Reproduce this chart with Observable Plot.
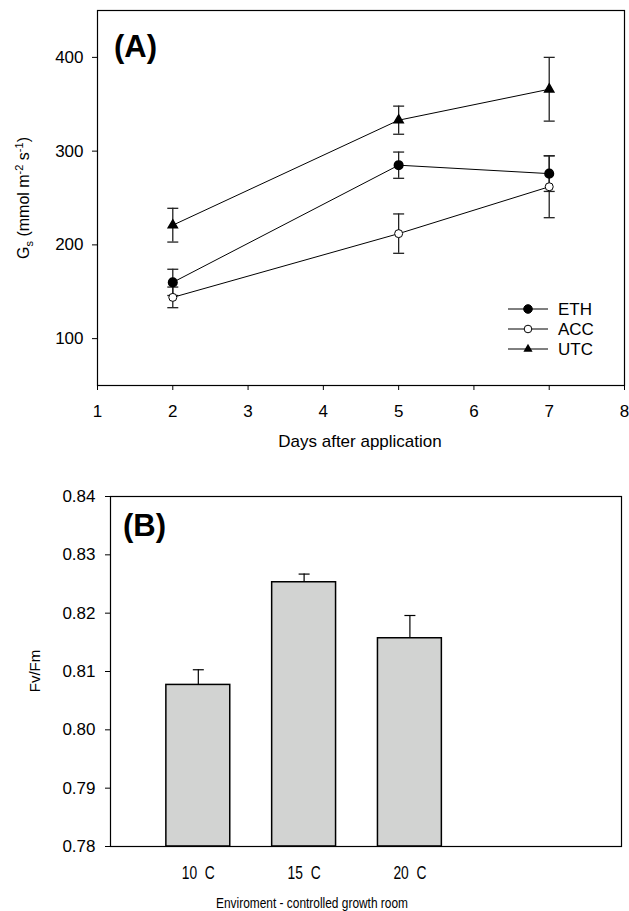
<!DOCTYPE html>
<html><head><meta charset="utf-8">
<script src="https://cdn.jsdelivr.net/npm/d3@7"></script>
<script src="https://cdn.jsdelivr.net/npm/@observablehq/plot@0.6"></script>
<style>
body{margin:0;background:#fff;}
#chart{width:629px;height:911px;}
#chart svg{display:block;}
</style></head><body><div id="chart"></div>
<script>
// ---- Panel A data ----
const days = [2, 5, 7];
const dayTicks = [1, 2, 3, 4, 5, 6, 7, 8];
const gsTicks = [100, 200, 300, 400];
const seriesNames = ["ETH", "ACC", "UTC"];
const ethMean = [160, 285, 276];
const ethErr = [14, 14, 19];
const accMean = [144, 212, 262];
const accErr = [11, 21, 33];
const utcMean = [221, 333, 366];
const utcErr = [18, 15, 34];

// ---- Panel B data ----
const envCategories = ["10\u00a0\u00a0C", "15\u00a0\u00a0C", "20\u00a0\u00a0C"];
const fvfmMean = [0.8077, 0.8253, 0.8157];
const fvfmErr = [0.0026, 0.0014, 0.0039];
const fvfmTicks = [0.78, 0.79, 0.80, 0.81, 0.82, 0.83, 0.84];

const FONT = "'Liberation Sans', Arial, Helvetica, sans-serif";

const capSymbol = {draw(ctx, size) { const w = Math.sqrt(size / Math.PI); ctx.moveTo(-w, 0); ctx.lineTo(w, 0); }};

function rows(name, means, errs) {
  return days.map((d, i) => ({series: name, day: d, value: means[i], err: errs[i]}));
}
const eth = rows("ETH", ethMean, ethErr);
const acc = rows("ACC", accMean, accErr);
const utc = rows("UTC", utcMean, utcErr);
const allA = [...eth, ...acc, ...utc];

const plotA = Plot.plot({
  width: 629, height: 470,
  marginTop: 10, marginLeft: 97, marginRight: 5, marginBottom: 85,
  style: {fontFamily: FONT, fontSize: "17px", color: "#000", background: "#fff", overflow: "visible"},
  x: {domain: [1, 8]},
  y: {domain: [50, 450]},
  marks: [
    Plot.axisX({ticks: dayTicks, tickFormat: d3.format("d"), tickSize: 5, tickPadding: 14, label: null, fontSize: 17}),
    Plot.axisY({ticks: gsTicks, tickFormat: d3.format("d"), tickSize: 5, tickPadding: 9, label: null, fontSize: 17}),
    Plot.ruleX(allA, {x: "day", y1: d => d.value - d.err, y2: d => d.value + d.err, stroke: "#222", strokeWidth: 1.3}),
    Plot.dot(allA, {x: "day", y: d => d.value - d.err, symbol: capSymbol, r: 5.5, stroke: "#222", strokeWidth: 1.3, fill: "none"}),
    Plot.dot(allA, {x: "day", y: d => d.value + d.err, symbol: capSymbol, r: 5.5, stroke: "#222", strokeWidth: 1.3, fill: "none"}),
    Plot.line(allA, {x: "day", y: "value", z: "series", stroke: "#000", strokeWidth: 1}),
    Plot.dot(eth, {x: "day", y: "value", r: 4.3, fill: "#000", stroke: "#000"}),
    Plot.dot(acc, {x: "day", y: "value", r: 4, fill: "#fff", stroke: "#000", strokeWidth: 1}),
    Plot.dot(utc, {x: "day", y: "value", symbol: "triangle", r: 3.4, fill: "#000", stroke: "#000"}),
    Plot.frame({stroke: "#000", strokeWidth: 1.2})
  ]
});

const rowsB = envCategories.map((c, i) => ({cat: c, pos: i + 1, value: fvfmMean[i], err: fvfmErr[i]}));
const barHalf = 0.302;
const plotB = Plot.plot({
  width: 629, height: 441,
  marginTop: 26, marginLeft: 110, marginRight: 8, marginBottom: 65,
  style: {fontFamily: FONT, fontSize: "17px", color: "#000", background: "#fff", overflow: "visible"},
  x: {domain: [0.17, 5.0]},
  y: {domain: [0.78, 0.84]},
  marks: [
    Plot.axisX({ticks: [1, 2, 3], tickFormat: d => envCategories[Math.round(d) - 1], tickSize: 0, tickPadding: 20, label: null, fontSize: 18}),
    Plot.axisY({ticks: fvfmTicks, tickFormat: d3.format(".2f"), tickSize: 5, tickPadding: 10, label: null, fontSize: 17}),
    Plot.ruleX(rowsB, {x: "pos", y1: "value", y2: d => d.value + d.err, stroke: "#000", strokeWidth: 1.2}),
    Plot.dot(rowsB, {x: "pos", y: d => d.value + d.err, symbol: capSymbol, r: 5.5, stroke: "#000", strokeWidth: 1.2, fill: "none"}),
    Plot.rect(rowsB, {x1: d => d.pos - barHalf, x2: d => d.pos + barHalf, y1: 0.78, y2: "value", fill: "#d2d3d2", stroke: "#000", strokeWidth: 1.5}),
    Plot.frame({stroke: "#000", strokeWidth: 1.2})
  ]
});

const chart = document.getElementById("chart");
chart.appendChild(plotA);
chart.appendChild(plotB);

// narrow the category labels of panel B like the reference
d3.select(plotB).selectAll('g[aria-label="x-axis tick label"] text')
  .attr("textLength", 33).attr("lengthAdjust", "spacingAndGlyphs");

// ---- annotations panel A ----
const sA = d3.select(plotA);
sA.append("text").attr("x", 114).attr("y", 57).attr("text-anchor", "start").attr("font-family", FONT).attr("font-weight", "bold")
  .attr("font-size", 31).attr("fill", "#000").text("(A)");
sA.append("text").attr("x", 360).attr("y", 447).attr("text-anchor", "middle").attr("font-family", FONT)
  .attr("font-size", 17).attr("fill", "#000").text("Days after application");
const gl = sA.append("text").attr("transform", "translate(29,198) rotate(-90)").attr("text-anchor", "middle")
  .attr("font-family", FONT).attr("font-size", 16).attr("fill", "#000").style("white-space", "pre");
gl.append("tspan").text("G");
gl.append("tspan").attr("dy", 4).attr("font-size", 11).text("s");
gl.append("tspan").attr("dy", -4).text(" (mmol m");
gl.append("tspan").attr("dy", -6).attr("font-size", 11).text("-2");
gl.append("tspan").attr("dy", 6).text(" s");
gl.append("tspan").attr("dy", -6).attr("font-size", 11).text("-1");
gl.append("tspan").attr("dy", 6).text(")");

// legend
const legY = [309, 329, 349];
seriesNames.forEach((name, i) => {
  const y = legY[i];
  const g = sA.append("g");
  g.append("line").attr("x1", 508).attr("x2", 548).attr("y1", y).attr("y2", y).attr("stroke", "#000").attr("stroke-width", 1);
  if (name === "UTC") {
    g.append("path").attr("d", d3.symbol(d3.symbolTriangle, Math.PI * 3.4 * 3.4)()).attr("transform", `translate(528,${y})`).attr("fill", "#000");
  } else {
    g.append("circle").attr("cx", 528).attr("cy", y).attr("r", name === "ETH" ? 4.3 : 3.8)
      .attr("fill", name === "ETH" ? "#000" : "#fff").attr("stroke", "#000");
  }
  g.append("text").attr("x", 558).attr("y", y + 6).attr("text-anchor", "start").attr("font-family", FONT)
    .attr("font-size", 17).attr("fill", "#000").text(name);
});

// ---- annotations panel B ----
const sB = d3.select(plotB);
sB.append("text").attr("x", 123).attr("y", 66).attr("text-anchor", "start").attr("font-family", FONT).attr("font-weight", "bold")
  .attr("font-size", 31).attr("fill", "#000").text("(B)");
sB.append("text").attr("x", 312).attr("y", 438).attr("text-anchor", "middle").attr("font-family", FONT)
  .attr("font-size", 14).attr("fill", "#000").attr("textLength", 192).attr("lengthAdjust", "spacingAndGlyphs")
  .text("Enviroment - controlled growth room");
sB.append("text").attr("transform", "translate(40,201) rotate(-90)").attr("text-anchor", "middle")
  .attr("font-family", FONT).attr("font-size", 15).attr("fill", "#000").text("Fv/Fm");
</script>
</body></html>
